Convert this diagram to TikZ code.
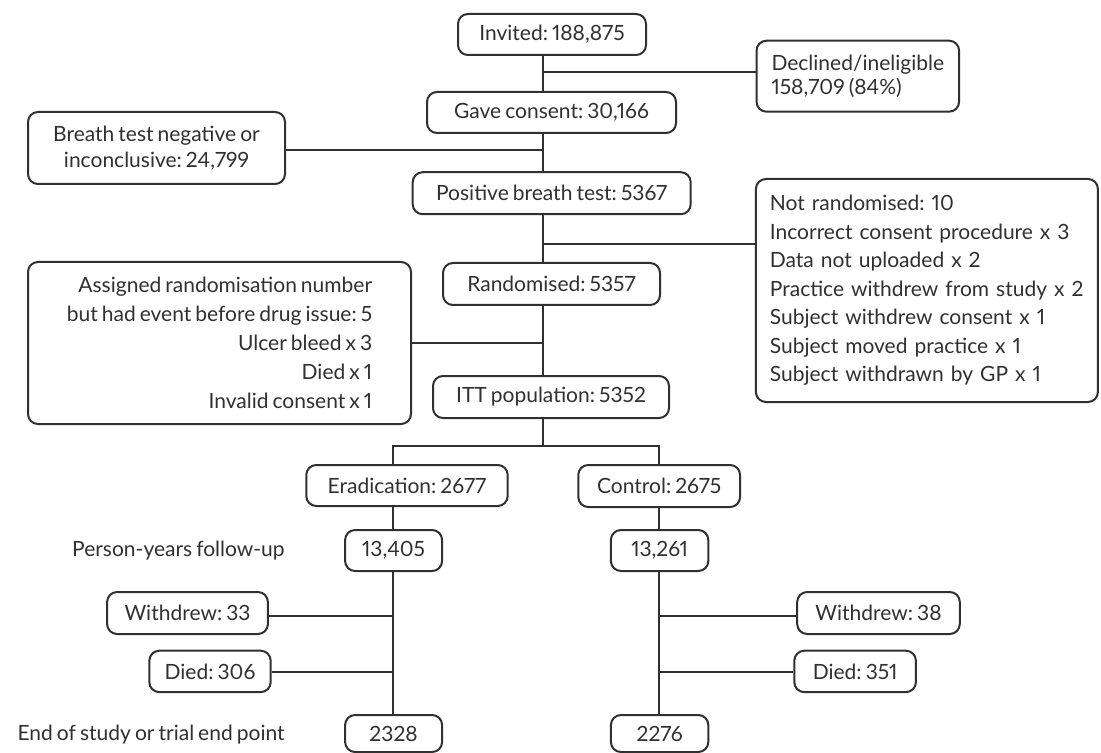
\documentclass[tikz,border=0pt]{standalone}
\usepackage{fontspec}
\setmainfont{Lato}[WordSpace=0.75, Numbers=Proportional]
\usetikzlibrary{positioning}
\definecolor{chart-grey}{HTML}{303030}
\frenchspacing
\hyphenpenalty=10000

\begin{document}
\begin{tikzpicture}[x=0.5pt, y=-0.5pt, font=\fontsize{10.5}{13}\selectfont,
  box/.style={draw=chart-grey, text=chart-grey, line width=1pt, rounded corners=5pt, inner sep=0pt, align=center},
  note/.style={text=chart-grey, inner sep=0pt},
  link/.style={draw=chart-grey, line width=1pt}]
\useasboundingbox (0, 0) rectangle (1101, 753);

\coordinate (main) at (543, 0);
\coordinate (eradline) at (393.3, 0);
\coordinate (ctrlline) at (658.7, 0);

\node[box, minimum width=94pt, minimum height=20.5pt] (invited) at (552, 34.5) {Invited: 188,875};
\node[box, minimum width=124.5pt, minimum height=20.5pt] (consent) at (551.5, 112.5) {Gave consent: 30,166};
\node[box, align=left, anchor=west, inner xsep=7.5pt, minimum height=35.5pt, font=\fontsize{10.5}{11.7}\selectfont] (declined) at (755.5, 76.2) {Declined/ineligible\\158,709 (84\%)};
\node[box, minimum width=128.5pt, minimum height=36pt] (negative) at (156.5, 148) {Breath test negative or\\inconclusive: 24,799};
\node[box, minimum width=139pt, minimum height=21pt] (positive) at (551.7, 193.2) {Positive breath test: 5367};
\node[box, align=left, text width=157pt, inner xsep=7pt, minimum height=111.5pt, font=\fontsize{10.5}{14.25}\selectfont] (notrand) at (926.9, 290.5) {%
Not randomised: 10\\
Incorrect consent procedure x 3\\
Data not uploaded x 2\\
Practice withdrew from study x 2\\
Subject withdrew consent x 1\\
Subject moved practice x 1\\
Subject withdrawn by GP x 1};
\node[box, minimum width=108.5pt, minimum height=21pt] (randomised) at (551.5, 284) {Randomised: 5357};
\node[box, align=right, minimum width=191.5pt, minimum height=81pt, font=\fontsize{10.5}{14.5}\selectfont] (assigned) at (219.5, 343) {%
Assigned randomisation number\\
but had event before drug issue: 5\\
Ulcer bleed x 3\\
Died x 1\\
Invalid consent x 1};
\node[box, minimum width=118pt, minimum height=21pt] (itt) at (551, 397) {ITT population: 5352};

\node[box, minimum width=100.7pt, minimum height=20.5pt] (erad) at (407, 485.5) {Eradication: 2677};
\node[box, minimum width=80.9pt, minimum height=21pt] (control) at (659.2, 486) {Control: 2675};

\node[note, anchor=east] (pylabel) at (285, 551) {Person-years follow-up};
\node[box, minimum width=48.5pt, minimum height=20.5pt] (py-erad) at (393.6, 550.5) {13,405};
\node[box, minimum width=48.7pt, minimum height=20.5pt] (py-ctrl) at (659.6, 550.5) {13,261};

\node[box, minimum width=80.4pt, minimum height=21pt] (wd-erad) at (187.5, 613) {Withdrew: 33};
\node[box, minimum width=60.7pt, minimum height=20.7pt] (died-erad) at (210, 671.4) {Died: 306};
\node[box, minimum width=81.3pt, minimum height=21pt] (wd-ctrl) at (878.5, 613) {Withdrew: 38};
\node[box, minimum width=60.8pt, minimum height=20.7pt] (died-ctrl) at (855.1, 671.4) {Died: 351};

\node[note, anchor=east] (endlabel) at (285, 735) {End of study or trial end point};
\node[box, minimum width=48.5pt, minimum height=18.5pt] (end-erad) at (393.6, 733.5) {2328};
\node[box, minimum width=48.7pt, minimum height=18.5pt] (end-ctrl) at (659.6, 733.5) {2276};

\draw[link] (invited.south -| main) -- (consent.north -| main);
\draw[link] (consent.south -| main) -- (positive.north -| main);
\draw[link] (positive.south -| main) -- (randomised.north -| main);
\draw[link] (randomised.south -| main) -- (itt.north -| main);

\coordinate (b-declined) at (543, 72);
\coordinate (b-negative) at (543, 150);
\coordinate (b-notrand) at (543, 244.3);
\coordinate (b-assigned) at (543, 343);
\draw[link] (b-declined) -- (declined.west |- b-declined);
\draw[link] (b-negative) -- (negative.east |- b-negative);
\draw[link] (b-notrand) -- (notrand.west |- b-notrand);
\draw[link] (b-assigned) -- (assigned.east |- b-assigned);

\coordinate (split) at (543, 446);
\draw[link] (itt.south -| main) -- (split);
\draw[link] (erad.north -| eradline) |- (split) -| (control.north -| ctrlline);

\draw[link] (erad.south -| eradline) -- (py-erad.north -| eradline);
\draw[link] (py-erad.south -| eradline) -- (end-erad.north -| eradline);
\draw[link] (control.south -| ctrlline) -- (py-ctrl.north -| ctrlline);
\draw[link] (py-ctrl.south -| ctrlline) -- (end-ctrl.north -| ctrlline);

\coordinate (b-wd-erad) at (393.3, 615.7);
\coordinate (b-died-erad) at (393.3, 671.7);
\coordinate (b-wd-ctrl) at (658.7, 615.7);
\coordinate (b-died-ctrl) at (658.7, 671.7);
\draw[link] (b-wd-erad) -- (wd-erad.east |- b-wd-erad);
\draw[link] (b-died-erad) -- (died-erad.east |- b-died-erad);
\draw[link] (b-wd-ctrl) -- (wd-ctrl.west |- b-wd-ctrl);
\draw[link] (b-died-ctrl) -- (died-ctrl.west |- b-died-ctrl);
\end{tikzpicture}
\end{document}
